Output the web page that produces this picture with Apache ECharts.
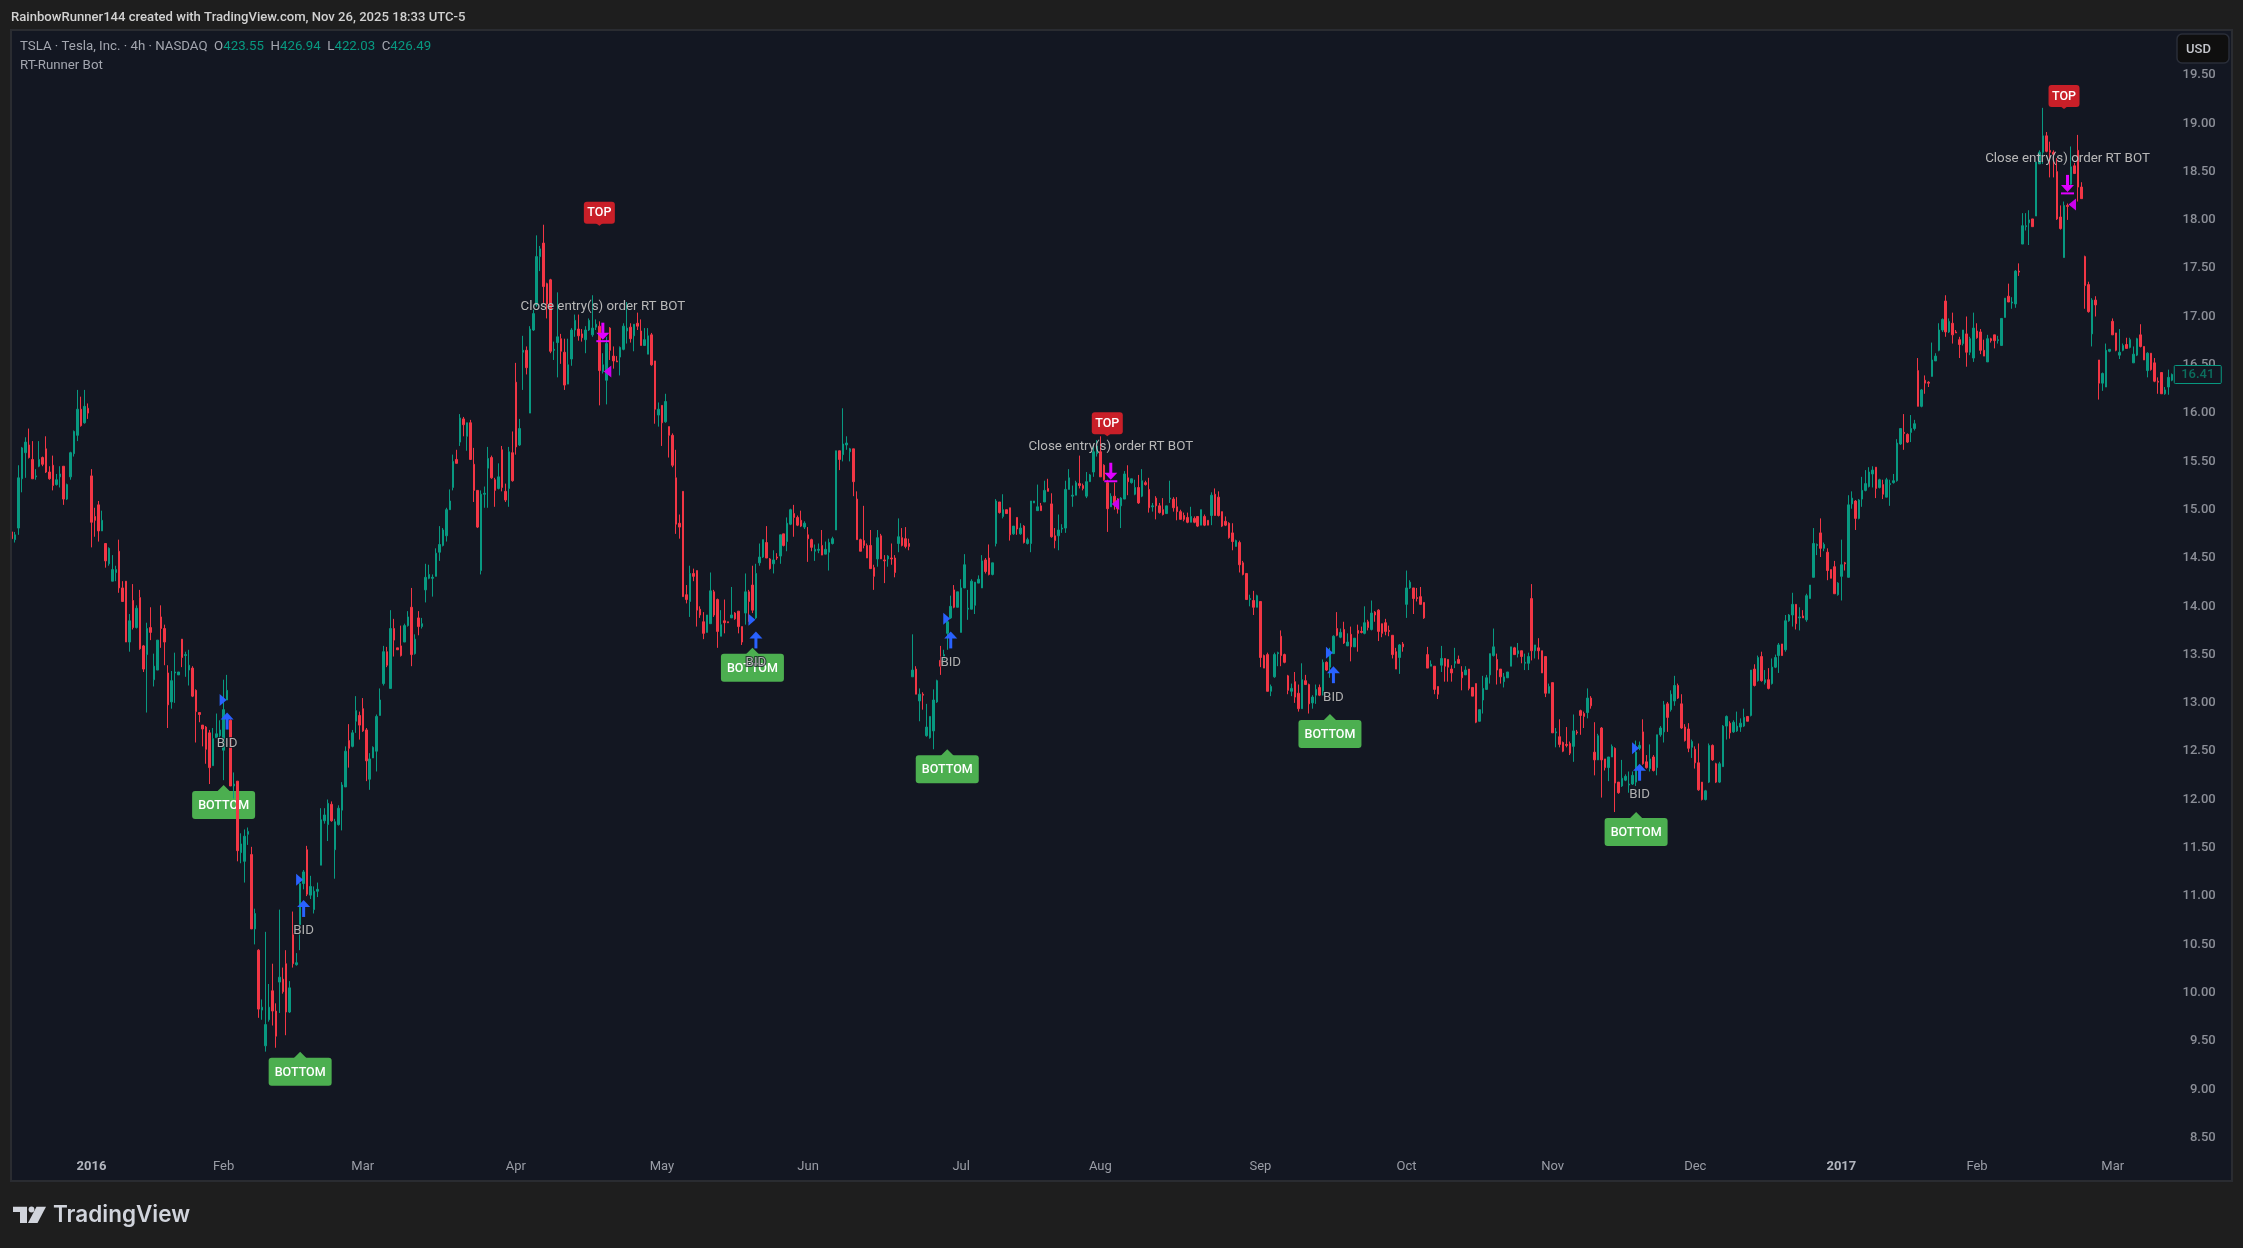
<!DOCTYPE html>
<html>
<head>
<meta charset="utf-8">
<title>TSLA RT-Runner Bot</title>
<style>
  html, body { margin: 0; padding: 0; background: #1e1e1e; }
  #main { width: 2243px; height: 1248px; }
</style>
<script src="https://cdn.jsdelivr.net/npm/echarts@6/dist/echarts.min.js"></script>
</head>
<body>
<div id="main"></div>
<script>
// every bar is [open, close, low, high]
const dec2015 = [[14.77,14.70,14.55,14.81],[14.69,14.74,14.66,14.77],[14.81,15.33,14.74,15.46],[15.32,15.64,15.18,15.65],[15.59,15.70,15.33,15.75],[15.67,15.54,15.53,15.84],[15.52,15.32,15.32,15.71],[15.34,15.35,15.31,15.42],[15.45,15.52,15.44,15.71],[15.54,15.47,15.45,15.55],[15.63,15.39,15.38,15.76],[15.39,15.32,15.31,15.45],[15.46,15.25,15.20,15.56],[15.26,15.31,15.25,15.37],[15.34,15.37,15.23,15.45],[15.45,15.11,15.05,15.45],[15.11,15.26,15.10,15.27],[15.34,15.59,15.31,15.60],[15.58,15.81,15.55,15.82],[15.77,16.04,15.71,16.24],[16.04,15.87,15.86,16.17],[15.90,16.07,15.89,16.24],[16.05,16.00,15.94,16.10]];
const jan2016 = [[15.35,14.87,14.61,15.42],[14.93,14.89,14.72,15.02],[15.05,14.78,14.67,15.09],[14.78,14.89,14.78,14.99],[14.65,14.47,14.40,14.65],[14.44,14.60,14.42,14.61],[14.26,14.38,14.26,14.53],[14.35,14.38,14.26,14.42],[14.57,14.19,14.14,14.69],[14.19,14.05,14.05,14.26],[14.26,13.63,13.63,14.26],[13.63,13.85,13.53,13.92],[14.06,13.78,13.76,14.23],[13.78,13.98,13.77,14.01],[14.09,13.56,13.55,14.17],[13.59,13.35,13.32,13.60],[13.50,13.77,12.90,13.83],[13.78,13.73,13.65,13.99],[13.24,13.38,13.17,13.51],[13.34,13.65,13.34,13.65],[13.89,13.77,13.57,14.01],[13.77,13.63,13.39,13.81],[13.31,12.98,12.74,13.39],[13.01,13.23,12.94,13.33],[13.31,13.32,13.00,13.52],[13.29,13.32,13.29,13.32],[13.66,13.47,13.37,13.66],[13.49,13.50,13.27,13.53],[13.34,13.39,13.18,13.55],[13.36,13.07,13.06,13.38],[13.13,12.91,12.59,13.14],[12.90,12.88,12.80,12.90],[12.77,12.73,12.55,12.77],[12.75,12.52,12.37,12.76],[12.69,12.33,12.16,12.72],[12.35,12.63,12.35,12.74],[12.64,12.68,12.64,12.89],[12.66,12.72,12.62,12.82]];
const feb2016 = [[12.51,12.93,12.20,13.24],[13.03,13.13,13.03,13.29],[12.82,12.14,12.14,12.83],[12.14,12.16,12.01,12.28],[12.19,11.47,11.36,12.19],[11.45,11.54,11.34,11.65],[11.36,11.62,11.14,11.69],[11.64,11.67,11.53,11.71],[11.43,10.66,10.66,11.51],[10.66,10.82,10.50,10.87],[10.44,9.83,9.74,10.45],[9.82,9.85,9.72,9.93],[9.45,9.67,9.39,10.63],[9.72,9.85,9.70,10.09],[10.02,9.81,9.66,10.30],[9.81,9.55,9.43,9.89],[10.11,10.16,9.79,10.86],[10.14,10.01,9.99,10.26],[10.30,9.80,9.56,10.44],[9.80,10.05,9.79,10.12],[10.61,10.30,10.26,10.84],[10.29,10.31,10.28,10.41],[10.70,11.13,10.44,11.13],[11.13,11.25,11.07,11.27],[11.48,11.02,11.00,11.52],[11.01,11.10,10.97,11.21],[10.86,11.05,10.82,11.10],[11.05,11.07,10.99,11.14],[11.32,11.79,11.32,11.91],[11.78,11.84,11.75,11.91],[11.74,11.96,11.57,12.00],[11.95,11.78,11.77,11.98],[11.48,11.77,11.18,11.80],[11.74,11.91,11.73,11.94],[11.89,12.15,11.68,12.18],[12.13,12.50,12.13,12.55],[12.61,12.53,12.33,12.78],[12.55,12.69,12.54,12.72],[12.81,12.92,12.69,13.07],[12.87,12.77,12.62,12.91]];
const mar2016 = [[12.94,12.71,12.70,13.05],[12.72,12.40,12.19,12.74],[12.21,12.42,12.10,12.48],[12.43,12.54,12.43,12.55],[12.50,12.86,12.29,12.88],[12.87,13.03,12.87,13.15],[13.20,13.53,13.18,13.59],[13.53,13.39,13.37,13.58],[13.15,13.77,13.15,13.96],[13.77,13.65,13.48,13.87],[13.57,13.55,13.55,13.57],[13.59,13.49,13.48,13.80],[13.63,13.80,13.63,13.82],[13.80,13.89,13.79,13.95],[13.99,13.50,13.38,14.19],[13.51,13.66,13.50,13.71],[13.88,13.79,13.70,13.95],[13.79,13.82,13.77,13.88],[14.17,14.30,14.04,14.44],[14.29,14.33,14.28,14.43],[14.29,14.30,14.10,14.33],[14.31,14.55,14.31,14.60],[14.56,14.64,14.47,14.83],[14.63,14.79,14.62,14.81],[14.73,15.00,14.67,15.02],[15.00,15.09,15.00,15.21],[15.23,15.50,15.20,15.57],[15.52,15.48,15.48,15.62],[15.70,15.95,15.66,15.99],[15.94,15.88,15.76,15.96],[15.76,15.90,15.61,15.90],[15.90,15.52,15.52,15.93],[15.47,15.20,15.08,15.64],[15.20,14.82,14.81,15.20],[14.37,15.16,14.33,15.20],[15.16,15.17,15.02,15.24],[15.43,15.53,15.02,15.65],[15.54,15.33,15.32,15.56],[15.31,15.20,15.03,15.33],[15.22,15.34,15.21,15.48],[15.62,15.23,15.19,15.66],[15.19,15.10,15.08,15.27],[15.22,15.60,15.03,15.65],[15.59,15.30,15.29,15.81]];
const apr2016 = [[16.32,15.65,15.57,16.52],[15.67,15.84,15.66,15.94],[16.63,16.65,16.24,16.80],[16.65,16.47,16.40,16.69],[16.00,16.87,16.00,16.90],[16.86,17.03,16.85,17.07],[17.12,17.62,17.10,17.84],[17.62,17.70,17.47,17.73],[17.76,17.31,17.14,17.95],[17.34,17.13,16.98,17.35],[17.38,16.64,16.62,17.39],[16.65,16.66,16.55,16.74],[16.73,16.79,16.37,17.25],[16.77,16.64,16.51,16.82],[16.63,16.29,16.24,16.77],[16.30,16.50,16.30,16.77],[16.56,16.86,16.49,16.88],[16.86,16.96,16.79,17.02],[16.87,16.80,16.75,17.02],[16.82,16.78,16.74,16.87],[16.76,16.86,16.62,16.90],[16.86,16.96,16.85,16.98],[16.81,16.88,16.79,17.22],[16.89,16.92,16.86,16.97],[16.90,16.44,16.08,16.95],[16.43,16.50,16.41,16.62],[16.34,16.72,16.09,16.79],[16.88,16.65,16.55,16.89],[16.59,16.54,16.46,16.69],[16.54,16.53,16.53,16.59],[16.58,16.68,16.39,16.69],[16.66,16.90,16.65,16.93],[16.85,16.88,16.72,17.15],[16.89,16.77,16.73,16.93],[16.80,16.92,16.64,16.92],[16.93,16.90,16.86,17.04],[16.85,16.70,16.70,16.97],[16.70,16.76,16.70,16.88],[16.61,16.80,16.61,16.88],[16.81,16.50,16.49,16.83],[16.54,16.04,15.89,16.54],[15.98,16.04,15.86,16.11]];
const may2016 = [[16.08,15.90,15.66,16.08],[15.91,16.12,15.90,16.20],[15.86,15.77,15.54,15.86],[15.77,15.46,15.44,15.79],[15.33,14.85,14.75,15.62],[14.86,14.82,14.70,14.95],[15.19,14.10,14.10,15.19],[14.12,14.07,14.03,14.22],[14.05,14.34,13.89,14.42],[14.34,14.31,14.26,14.39],[14.37,13.96,13.79,14.37],[13.97,13.91,13.88,14.00],[13.84,13.72,13.66,13.94],[13.73,13.91,13.73,13.91],[13.82,14.16,13.82,14.35],[14.15,13.91,13.89,14.17],[14.07,13.74,13.57,14.08],[13.69,13.81,13.69,13.96],[13.85,13.83,13.72,14.07],[13.84,13.83,13.83,13.84],[13.88,13.91,13.88,14.20],[13.93,13.87,13.86,13.94],[13.95,13.79,13.72,13.95],[13.79,13.63,13.60,13.79],[13.93,14.15,13.81,14.34],[14.15,14.05,13.84,14.17],[14.22,13.96,13.93,14.42],[13.88,14.34,13.87,14.44],[14.45,14.51,14.42,14.65],[14.51,14.69,14.50,14.69],[14.66,14.50,14.50,14.83],[14.49,14.39,14.38,14.50],[14.44,14.48,14.34,14.58],[14.51,14.50,14.48,14.55],[14.52,14.74,14.44,14.74],[14.75,14.63,14.62,14.75],[14.67,14.86,14.57,14.92],[14.85,15.00,14.84,15.01],[14.96,14.92,14.72,15.05],[14.92,14.84,14.83,14.94],[14.89,14.83,14.82,14.99],[14.82,14.86,14.80,14.88]];
const jun2016 = [[14.74,14.70,14.46,14.82],[14.69,14.61,14.57,14.70],[14.57,14.59,14.47,14.64],[14.58,14.59,14.55,14.65],[14.63,14.53,14.53,14.79],[14.54,14.59,14.54,14.67],[14.56,14.66,14.37,14.70],[14.65,14.70,14.64,14.72],[14.79,15.61,14.79,15.61],[15.61,15.52,15.41,15.61],[15.57,15.68,15.50,16.05],[15.67,15.69,15.62,15.76],[15.60,15.63,15.50,15.64],[15.63,15.29,15.14,15.63],[15.11,14.69,14.69,15.19],[14.69,14.57,14.57,14.70],[14.68,14.63,14.60,15.04],[14.63,14.50,14.50,14.65],[14.63,14.39,14.39,14.79],[14.40,14.31,14.17,14.43],[14.49,14.71,14.41,14.79],[14.73,14.49,14.49,14.75],[14.48,14.47,14.24,14.53],[14.49,14.52,14.41,14.53],[14.50,14.49,14.43,14.65],[14.50,14.35,14.30,14.53],[14.65,14.72,14.56,14.91],[14.71,14.63,14.62,14.81],[14.70,14.62,14.60,14.82],[14.65,14.62,14.58,14.70],[13.27,13.34,13.27,13.71],[13.35,13.09,13.09,13.38],[13.02,13.09,12.81,13.15],[13.09,13.08,12.93,13.11],[12.66,12.75,12.65,12.99],[12.64,12.86,12.63,12.86],[12.71,13.03,12.52,13.14],[13.01,13.23,13.00,13.24],[13.44,13.38,13.29,13.59],[13.45,13.50,13.40,13.55],[13.72,13.84,13.55,13.86],[13.88,14.00,13.87,14.11],[14.17,13.99,13.98,14.22],[13.99,14.15,13.99,14.15]];
const jul2016 = [[13.73,14.19,13.73,14.28],[14.19,14.43,14.19,14.54],[13.97,13.98,13.86,14.17],[13.97,14.26,13.97,14.28],[14.01,14.25,13.92,14.25],[14.24,14.28,14.24,14.32],[14.19,14.47,14.19,14.53],[14.48,14.36,14.34,14.50],[14.50,14.33,14.32,14.64],[14.33,14.45,14.32,14.45],[14.65,15.09,14.62,15.11],[15.08,14.97,14.96,15.08],[14.93,15.00,14.91,15.16],[15.00,14.96,14.96,15.00],[15.02,14.74,14.68,15.02],[14.75,14.83,14.74,14.83],[14.92,14.80,14.74,14.92],[14.75,14.81,14.74,14.86],[14.83,14.66,14.65,14.84],[14.65,14.69,14.64,14.71],[14.65,15.09,14.56,15.09],[15.07,15.09,15.07,15.09],[14.99,15.03,14.99,15.26],[15.04,14.99,14.99,15.07],[15.08,15.20,15.08,15.30],[15.22,15.19,15.19,15.32],[15.06,14.72,14.71,15.17],[14.73,14.68,14.60,14.81],[14.73,14.79,14.58,14.95],[14.80,14.81,14.76,14.85],[14.81,15.21,14.76,15.30],[15.21,15.33,15.21,15.42],[15.14,15.15,15.03,15.25],[15.15,15.28,15.15,15.30],[15.27,15.25,15.22,15.56],[15.25,15.22,15.20,15.27],[15.14,15.29,15.12,15.39],[15.29,15.36,15.29,15.37],[15.39,15.60,15.34,15.67],[15.58,15.66,15.55,15.72]];
const aug2016 = [[15.60,15.34,15.34,15.76],[15.46,15.31,15.30,15.47],[15.28,15.01,14.77,15.31],[15.03,15.14,15.03,15.17],[15.14,15.05,15.00,15.28],[15.03,15.01,14.96,15.12],[15.04,15.12,14.81,15.13],[15.11,15.37,15.11,15.40],[15.33,15.29,15.15,15.46],[15.28,15.32,15.27,15.32],[15.16,15.23,15.15,15.31],[15.23,15.07,15.06,15.36],[15.14,15.30,15.13,15.42],[15.28,15.26,15.25,15.30],[15.21,15.02,14.97,15.33],[15.03,15.04,14.98,15.07],[15.12,15.04,14.90,15.14],[15.04,14.97,14.96,15.07],[15.00,14.95,14.94,15.12],[14.96,15.04,14.96,15.04],[15.11,15.12,15.07,15.30],[15.11,15.02,14.98,15.13],[15.03,14.98,14.89,15.13],[14.98,14.90,14.90,15.00],[14.94,14.90,14.88,14.97],[14.92,14.87,14.86,14.97],[14.87,14.93,14.87,15.03],[14.91,14.87,14.86,14.93],[14.93,14.83,14.82,14.93],[14.84,15.00,14.84,15.00],[14.93,14.84,14.83,14.95],[14.89,14.84,14.84,14.89],[14.94,15.15,14.84,15.18],[15.16,14.94,14.94,15.22],[15.13,14.94,14.93,15.19],[14.98,14.83,14.82,14.98],[14.88,14.84,14.83,14.93],[14.86,14.71,14.70,14.87],[14.76,14.67,14.58,14.86],[14.62,14.68,14.62,14.69],[14.66,14.43,14.35,14.68],[14.45,14.33,14.32,14.47],[14.34,14.07,14.07,14.34],[14.07,14.08,14.00,14.12],[14.06,13.99,13.91,14.16],[13.99,14.11,13.99,14.12]];
const sep2016 = [[14.05,13.47,13.37,14.05],[13.49,13.36,13.36,13.50],[13.50,13.12,13.12,13.52],[13.12,13.17,13.07,13.19],[13.27,13.50,13.26,13.52],[13.51,13.52,13.38,13.53],[13.69,13.49,13.38,13.75],[13.50,13.42,13.41,13.51],[13.28,13.13,13.09,13.29],[13.12,13.15,13.07,13.20],[13.22,13.06,13.00,13.32],[13.10,12.94,12.91,13.19],[12.94,13.24,12.94,13.41],[13.23,13.19,13.19,13.29],[13.19,12.99,12.89,13.20],[13.00,13.06,12.94,13.08],[13.08,13.14,12.99,13.19],[13.16,13.08,13.07,13.19],[13.08,13.42,13.08,13.45],[13.42,13.34,13.33,13.43],[13.37,13.51,13.26,13.57],[13.51,13.69,13.51,13.70],[13.77,13.70,13.69,13.94],[13.68,13.73,13.67,13.77],[13.76,13.62,13.61,13.84],[13.59,13.63,13.59,13.72],[13.71,13.58,13.43,13.79],[13.58,13.67,13.58,13.67],[13.75,13.72,13.53,13.81],[13.74,13.73,13.72,13.79],[13.72,13.83,13.71,14.00],[13.84,13.78,13.75,13.86],[13.76,13.93,13.75,14.06],[13.94,13.91,13.84,13.95],[13.96,13.74,13.64,13.97],[13.82,13.72,13.68,13.82],[13.83,13.74,13.70,13.87],[13.75,13.74,13.69,13.80],[13.70,13.50,13.46,13.70],[13.53,13.35,13.35,13.57],[13.47,13.60,13.30,13.61],[13.61,13.58,13.53,13.63]];
const oct2016 = [[14.02,14.19,13.88,14.37],[14.19,14.25,14.18,14.27],[14.19,14.08,13.92,14.19],[14.09,14.08,14.05,14.19],[14.10,14.02,14.02,14.20],[14.04,13.88,13.87,14.04],[13.50,13.36,13.36,13.58],[13.38,13.40,13.38,13.44],[13.38,13.14,13.09,13.38],[13.17,13.09,13.04,13.17],[13.39,13.46,13.32,13.59],[13.46,13.38,13.22,13.46],[13.45,13.37,13.22,13.45],[13.35,13.31,13.22,13.39],[13.41,13.43,13.36,13.57],[13.45,13.41,13.41,13.49],[13.32,13.26,13.13,13.38],[13.29,13.34,13.29,13.38],[13.35,13.15,13.13,13.35],[13.16,13.07,13.07,13.16],[13.20,12.80,12.79,13.20],[12.81,12.93,12.81,12.93],[13.03,13.15,12.89,13.28],[13.14,13.26,13.14,13.29],[13.29,13.51,13.20,13.51],[13.49,13.58,13.48,13.77],[13.45,13.34,13.19,13.51],[13.35,13.27,13.20,13.35],[13.22,13.27,13.16,13.31],[13.26,13.32,13.26,13.32],[13.38,13.58,13.38,13.58],[13.57,13.50,13.50,13.58],[13.51,13.54,13.47,13.62],[13.54,13.48,13.41,13.54],[13.41,13.42,13.34,13.51],[13.41,13.48,13.34,13.52],[14.08,13.54,13.44,14.23],[13.54,13.60,13.46,13.60],[13.57,13.54,13.45,13.67],[13.54,13.31,13.31,13.54],[13.48,13.10,13.06,13.48],[13.10,13.17,13.10,13.20]];
const nov2016 = [[13.21,12.69,12.69,13.21],[12.69,12.70,12.54,12.74],[12.65,12.57,12.54,12.83],[12.59,12.50,12.49,12.60],[12.57,12.56,12.54,12.75],[12.58,12.48,12.46,12.60],[12.55,12.71,12.39,12.88],[12.70,12.69,12.67,12.72],[12.92,12.87,12.67,12.93],[12.89,12.86,12.74,12.91],[12.90,13.05,12.84,13.15],[13.05,12.97,12.94,13.07],[12.49,12.41,12.25,12.80],[12.41,12.66,12.41,12.68],[12.74,12.41,12.02,12.75],[12.42,12.33,12.30,12.42],[12.33,12.44,12.19,12.44],[12.44,12.55,12.44,12.57],[12.53,12.17,11.87,12.54],[12.18,12.07,12.06,12.18],[12.14,12.22,12.13,12.41],[12.20,12.24,12.19,12.26],[12.15,12.16,12.07,12.29],[12.16,12.25,12.15,12.29],[12.18,12.49,12.14,12.61],[12.53,12.56,12.51,12.60],[12.70,12.37,12.36,12.83],[12.39,12.33,12.32,12.46],[12.32,12.42,12.29,12.57],[12.44,12.30,12.29,12.46],[12.33,12.67,12.25,12.67],[12.67,12.74,12.65,12.76],[12.70,12.98,12.59,13.02],[12.99,12.85,12.70,13.01],[12.93,13.09,12.91,13.13],[13.02,13.18,12.97,13.28],[13.18,13.05,13.04,13.20],[12.99,12.74,12.73,13.09],[12.75,12.61,12.60,12.78],[12.73,12.53,12.49,12.79],[12.54,12.60,12.43,12.62]];
const dec2016 = [[12.52,12.38,12.32,12.55],[12.38,12.10,12.09,12.58],[12.18,12.00,11.99,12.18],[12.00,12.09,11.99,12.10],[12.18,12.56,12.17,12.58],[12.56,12.41,12.40,12.57],[12.37,12.18,12.17,12.38],[12.18,12.37,12.17,12.39],[12.34,12.76,12.34,12.77],[12.76,12.86,12.62,12.87],[12.79,12.69,12.63,12.81],[12.70,12.80,12.69,12.82],[12.71,12.76,12.70,12.91],[12.75,12.79,12.70,12.84],[12.76,12.85,12.75,12.94],[12.86,12.81,12.81,12.86],[12.87,13.34,12.86,13.34],[13.35,13.18,13.17,13.40],[13.23,13.47,13.22,13.49],[13.48,13.23,13.22,13.53],[13.21,13.24,13.19,13.34],[13.24,13.15,13.14,13.36],[13.20,13.37,13.19,13.46],[13.37,13.47,13.36,13.50],[13.49,13.60,13.31,13.62],[13.61,13.49,13.49,13.61],[13.55,13.85,13.53,13.91],[13.85,13.91,13.84,13.92],[13.91,14.02,13.79,14.14],[14.02,13.82,13.76,14.02],[13.88,13.89,13.75,13.99],[13.90,13.88,13.88,13.96],[13.86,14.11,13.84,14.13],[14.08,14.22,14.08,14.22],[14.30,14.65,14.30,14.81],[14.63,14.64,14.53,14.65],[14.76,14.60,14.51,14.91],[14.60,14.64,14.57,14.66],[14.56,14.37,14.27,14.60],[14.38,14.29,14.29,14.38],[14.41,14.13,14.13,14.47],[14.12,14.24,14.11,14.25]];
const jan2017 = [[14.31,14.43,14.06,14.69],[14.45,14.44,14.37,14.46],[14.30,15.05,14.30,15.15],[15.06,15.12,15.01,15.19],[15.09,14.91,14.79,15.10],[14.91,15.10,14.90,15.11],[15.11,15.20,15.03,15.34],[15.20,15.27,15.19,15.41],[15.24,15.39,15.23,15.44],[15.37,15.41,15.23,15.45],[15.44,15.22,15.12,15.44],[15.23,15.31,15.22,15.32],[15.26,15.16,15.11,15.31],[15.13,15.31,15.13,15.33],[15.26,15.27,15.04,15.31],[15.28,15.30,15.27,15.37],[15.30,15.69,15.29,15.73],[15.68,15.84,15.67,15.84],[15.80,15.79,15.62,15.99],[15.78,15.70,15.69,15.79],[15.80,15.84,15.70,15.98],[15.84,15.89,15.82,15.93],[16.44,16.07,16.07,16.57],[16.07,16.24,16.06,16.25],[16.34,16.31,16.20,16.39],[16.32,16.31,16.27,16.33],[16.38,16.55,16.38,16.73],[16.54,16.59,16.54,16.62],[16.65,16.86,16.64,16.93],[16.86,16.97,16.84,16.98],[17.16,16.84,16.79,17.22],[16.84,16.95,16.83,16.98],[16.93,16.81,16.72,17.04],[16.84,16.83,16.83,16.86],[16.76,16.71,16.57,16.79],[16.72,16.86,16.70,16.86],[16.82,16.63,16.48,17.00],[16.63,16.77,16.60,16.79],[16.57,16.88,16.53,17.04]];
const feb2017 = [[16.85,16.78,16.77,16.93],[16.84,16.65,16.61,16.87],[16.65,16.59,16.59,16.76],[16.53,16.77,16.53,16.81],[16.77,16.75,16.73,16.78],[16.81,16.75,16.67,16.81],[16.75,16.76,16.72,16.80],[16.70,16.98,16.70,16.98],[16.99,17.19,16.99,17.19],[17.21,17.15,17.15,17.34],[17.14,17.15,17.08,17.20],[17.13,17.47,17.09,17.48],[17.47,17.46,17.42,17.55],[17.75,17.94,17.75,18.07],[17.93,17.94,17.89,18.07],[17.97,18.00,17.74,18.10],[18.01,17.93,17.93,18.01],[18.04,18.60,18.04,18.60],[18.58,18.70,18.58,18.72],[18.70,18.87,18.58,19.16],[18.87,18.71,18.70,18.91],[18.72,18.70,18.44,18.81],[18.70,18.68,18.44,18.72],[18.50,18.01,18.00,18.64],[18.03,17.91,17.90,18.15],[17.61,18.15,17.61,18.19],[18.15,18.14,18.00,18.17],[18.37,18.55,18.36,18.76],[18.56,18.48,18.48,18.59],[18.72,18.34,18.19,18.88],[18.34,18.22,18.22,18.39],[17.62,17.32,17.08,17.63],[17.33,17.05,17.04,17.36],[16.82,17.17,16.69,17.19],[17.17,17.12,17.00,17.21],[16.55,16.31,16.14,16.55],[16.31,16.41,16.23,16.42],[16.27,16.65,16.27,16.72],[16.64,16.66,16.63,16.66]];
const mar2017 = [[16.95,16.81,16.81,16.98],[16.83,16.65,16.64,16.83],[16.60,16.63,16.56,16.87],[16.65,16.70,16.64,16.72],[16.71,16.67,16.67,16.78],[16.68,16.76,16.67,16.78],[16.52,16.61,16.52,16.69],[16.60,16.77,16.59,16.78],[16.81,16.69,16.68,16.92],[16.69,16.55,16.55,16.69],[16.44,16.62,16.37,16.63],[16.62,16.45,16.44,16.62],[16.52,16.33,16.32,16.57],[16.33,16.32,16.20,16.37],[16.42,16.20,16.20,16.42],[16.20,16.24,16.19,16.27],[16.27,16.37,16.19,16.45],[16.34,16.40,16.33,16.41]];

const months = [dec2015, jan2016, feb2016, mar2016, apr2016, may2016, jun2016, jul2016, aug2016, sep2016, oct2016, nov2016, dec2016, jan2017, feb2017, mar2017];
const monthLabels = ['', '2016', 'Feb', 'Mar', 'Apr', 'May', 'Jun', 'Jul', 'Aug', 'Sep', 'Oct', 'Nov', 'Dec', '2017', 'Feb', 'Mar'];

// signals, as bar number and price
const bottomBars = [61, 83, 213, 269, 379, 467];
const bottomPrices = [12.15, 9.39, 13.57, 12.52, 12.885, 11.87];
const topBars = [169, 315, 590];
const topPrices = [17.94, 15.76, 19.148];
const bidBars = [62, 84, 214, 270, 380, 468];
const bidPrices = [12.90, 10.96, 13.74, 13.74, 13.38, 12.37];
const bidFillPrices = [13.03, 11.17, 13.86, 13.87, 13.52, 12.53];
const exitBars = [170, 316, 591];
const exitPrices = [16.76, 15.31, 18.29];
const exitFillPrices = [16.43, 15.06, 18.16];
const lastPrice = 16.41;

const GREEN = '#089981';
const RED = '#F23645';
const BLUE = '#2962ff';
const MAGENTA = '#e000ff';
const FONT = 'Roboto, "Noto Sans", sans-serif';
const TOTAL_SLOTS = 639; // bars plus the empty space under the price scale

const bars = months.flat();
const categories = [];
months.forEach((m, i) => {
  m.forEach((b, j) => categories.push(j === 0 ? monthLabels[i] : ''));
});
while (categories.length < TOTAL_SLOTS) categories.push('');

function pairs(xs, ys) {
  return xs.map((x, i) => [x, ys[i]]);
}

// BOTTOM and TOP boxes sit behind the candles
function renderBottom(params, api) {
  const p = api.coord([api.value(0), api.value(1)]);
  const x = p[0], y = p[1];
  return {
    type: 'group',
    children: [
      { type: 'polygon', shape: { points: [[x - 7, y + 7], [x, y], [x + 7, y + 7]] }, style: { fill: '#4caf50' } },
      { type: 'rect', shape: { x: x - 31.5, y: y + 6, width: 63, height: 28, r: 3 }, style: { fill: '#4caf50' } },
      { type: 'text', style: { text: 'BOTTOM', x: x, y: y + 21, align: 'center', verticalAlign: 'middle', fill: '#ffffff', font: '500 12.5px ' + FONT } }
    ]
  };
}

function renderTop(params, api) {
  const p = api.coord([api.value(0), api.value(1)]);
  const x = p[0], y = p[1];
  return {
    type: 'group',
    children: [
      { type: 'polygon', shape: { points: [[x - 4, y - 3], [x, y], [x + 4, y - 3]] }, style: { fill: '#c91f28' } },
      { type: 'rect', shape: { x: x - 15.5, y: y - 24, width: 31, height: 22, r: 3 }, style: { fill: '#c91f28' } },
      { type: 'text', style: { text: 'TOP', x: x, y: y - 12.5, align: 'center', verticalAlign: 'middle', fill: '#ffffff', font: '500 12.5px ' + FONT } }
    ]
  };
}

// blue up arrow with BID under it, triangle marks the fill
function renderBid(params, api) {
  const p = api.coord([api.value(0), api.value(1)]);
  const f = api.coord([api.value(0), api.value(2)]);
  const x = p[0], y = p[1];
  return {
    type: 'group',
    children: [
      { type: 'polygon', shape: { points: [[x - 6.5, y + 7], [x, y], [x + 6.5, y + 7]] }, style: { fill: BLUE } },
      { type: 'rect', shape: { x: x - 1.5, y: y + 6, width: 3, height: 11 }, style: { fill: BLUE } },
      { type: 'polygon', shape: { points: [[f[0] - 7.5, f[1] - 6], [f[0] - 0.5, f[1]], [f[0] - 7.5, f[1] + 6]] }, style: { fill: BLUE } },
      { type: 'text', style: { text: 'BID', x: x, y: y + 31, align: 'center', verticalAlign: 'middle', fill: '#b0b0b0', stroke: 'rgba(19,23,34,0.75)', lineWidth: 2, font: '13.3px ' + FONT } }
    ]
  };
}

// magenta down arrow with the close text over it, triangle marks the fill
function renderExit(params, api) {
  const p = api.coord([api.value(0), api.value(1)]);
  const f = api.coord([api.value(0), api.value(2)]);
  const x = p[0], y = p[1];
  return {
    type: 'group',
    children: [
      { type: 'rect', shape: { x: x - 1.5, y: y - 17, width: 3, height: 11 }, style: { fill: MAGENTA } },
      { type: 'polygon', shape: { points: [[x - 6.5, y - 7], [x, y], [x + 6.5, y - 7]] }, style: { fill: MAGENTA } },
      { type: 'rect', shape: { x: x - 6.5, y: y + 0.5, width: 13, height: 2 }, style: { fill: MAGENTA } },
      { type: 'polygon', shape: { points: [[f[0] + 1, f[1]], [f[0] + 8.5, f[1] - 6], [f[0] + 8.5, f[1] + 6]] }, style: { fill: '#cc00ee' } },
      { type: 'text', style: { text: 'Close entry(s) order RT BOT', x: x, y: y - 33, align: 'center', verticalAlign: 'middle', fill: '#b8b8b8', font: '13.35px ' + FONT } }
    ]
  };
}

// last price tag on the scale
function renderTag(params, api) {
  const p = api.coord([0, api.value(1)]);
  const cs = params.coordSys;
  const left = cs.x + cs.width - 58.5;
  return {
    type: 'group',
    children: [
      { type: 'rect', shape: { x: left, y: p[1] - 8, width: 47, height: 18, r: 1 }, style: { fill: '#131722', stroke: GREEN, lineWidth: 1 } },
      { type: 'text', style: { text: lastPrice.toFixed(2), x: left + 23.5, y: p[1] + 1.5, align: 'center', verticalAlign: 'middle', fill: '#0b6f5e', font: '500 13px ' + FONT } }
    ]
  };
}

const myChart = echarts.init(document.getElementById('main'));

const option = {
  backgroundColor: '#1e1e1e',
  animation: false,
  grid: { left: 9.66, top: 26.7, width: 2223.1, height: 1159.2 },
  xAxis: {
    type: 'category',
    data: categories,
    boundaryGap: true,
    axisLine: { show: false },
    axisTick: { show: false },
    splitLine: { show: false },
    axisLabel: {
      inside: true,
      interval: 0,
      margin: 13,
      color: '#9a9da6',
      fontFamily: FONT,
      fontSize: 13,
      formatter: function (v) {
        return /^20/.test(v) ? '{yr|' + v + '}' : v;
      },
      rich: { yr: { color: '#b2b5be', fontFamily: FONT, fontSize: 13, fontWeight: 'bold' } }
    }
  },
  yAxis: {
    type: 'value',
    position: 'right',
    min: 8,
    max: 20,
    interval: 0.5,
    axisLine: { show: false },
    axisTick: { show: false },
    splitLine: { show: false },
    axisLabel: {
      inside: true,
      margin: 17,
      padding: [3, 0, 0, 0],
      color: '#8b8e97',
      fontFamily: FONT,
      fontSize: 13,
      fontWeight: 500,
      formatter: function (v) {
        return v > 8 && v < 20 ? v.toFixed(2) : '';
      }
    }
  },
  series: [
    { type: 'custom', z: 1, clip: false, silent: true, renderItem: renderBottom, data: pairs(bottomBars, bottomPrices), encode: { x: 0, y: 1 } },
    { type: 'custom', z: 1, clip: false, silent: true, renderItem: renderTop, data: pairs(topBars, topPrices), encode: { x: 0, y: 1 } },
    {
      type: 'candlestick',
      z: 2,
      large: false, // over 600 bars would switch to thin large mode
      barWidth: 2,
      progressive: 0,
      data: bars,
      itemStyle: { color: GREEN, color0: RED, borderColor: GREEN, borderColor0: RED, borderWidth: 1 }
    },
    { type: 'custom', z: 3, clip: false, silent: true, renderItem: renderBid, data: bidBars.map((b, i) => [b, bidPrices[i], bidFillPrices[i]]), encode: { x: 0, y: 1 } },
    { type: 'custom', z: 3, clip: false, silent: true, renderItem: renderExit, data: exitBars.map((b, i) => [b, exitPrices[i], exitFillPrices[i]]), encode: { x: 0, y: 1 } },
    { type: 'custom', z: 4, clip: false, silent: true, renderItem: renderTag, data: [[bars.length - 1, lastPrice]], encode: { x: 0, y: 1 } }
  ],
  graphic: [
    { type: 'rect', z: 0, silent: true, shape: { x: 11, y: 30, width: 2221, height: 1151 }, style: { fill: '#131722' } },
    { type: 'rect', z: 20, silent: true, shape: { x: 0, y: 0, width: 10.5, height: 1248 }, style: { fill: '#1e1e1e' } },
    { type: 'rect', z: 20, silent: true, shape: { x: 11, y: 30, width: 2221, height: 1151 }, style: { fill: 'none', stroke: '#2a2c31', lineWidth: 2 } },
    { type: 'text', z: 21, silent: true, style: { text: 'RainbowRunner144 created with TradingView.com, Nov 26, 2025 18:33 UTC-5', x: 11, y: 18, verticalAlign: 'middle', fill: '#d1d1d1', font: '500 13.1px ' + FONT } },
    {
      type: 'text', z: 21, silent: true,
      style: {
        text: '{g|TSLA · Tesla, Inc. · 4h · NASDAQ  O}{n|423.55}{g|  H}{n|426.94}{g|  L}{n|422.03}{g|  C}{n|426.49}',
        x: 20, y: 47, verticalAlign: 'middle',
        rich: {
          g: { fill: '#a3a6af', font: '13.25px ' + FONT },
          n: { fill: GREEN, font: '13.25px ' + FONT }
        }
      }
    },
    { type: 'text', z: 21, silent: true, style: { text: 'RT-Runner Bot', x: 20, y: 66, verticalAlign: 'middle', fill: '#a3a6af', font: '13.25px ' + FONT } },
    { type: 'rect', z: 21, silent: true, shape: { x: 2177, y: 34, width: 52, height: 29, r: 5 }, style: { fill: '#0f0f0f', stroke: '#2a2e39', lineWidth: 1.5 } },
    { type: 'text', z: 22, silent: true, style: { text: 'USD', x: 2198.5, y: 49.5, align: 'center', verticalAlign: 'middle', fill: '#c4c6cc', font: '500 13px ' + FONT } },
    // TradingView mark
    { type: 'polygon', z: 21, silent: true, shape: { points: [[13, 1206.7], [27, 1206.7], [27, 1223], [20, 1223], [20, 1212], [13, 1212]] }, style: { fill: '#d1d4dc' } },
    { type: 'circle', z: 21, silent: true, shape: { cx: 31.5, cy: 1209.5, r: 2.9 }, style: { fill: '#d1d4dc' } },
    { type: 'polygon', z: 21, silent: true, shape: { points: [[36.5, 1206.7], [46, 1206.7], [37.5, 1223], [28, 1223]] }, style: { fill: '#d1d4dc' } },
    { type: 'text', z: 21, silent: true, style: { text: 'TradingView', x: 53, y: 1215.5, verticalAlign: 'middle', fill: '#d1d4dc', font: '600 22.5px Inter, ' + FONT } }
  ]
};

myChart.setOption(option);
window.addEventListener('resize', () => myChart.resize(), false);
</script>
</body>
</html>
